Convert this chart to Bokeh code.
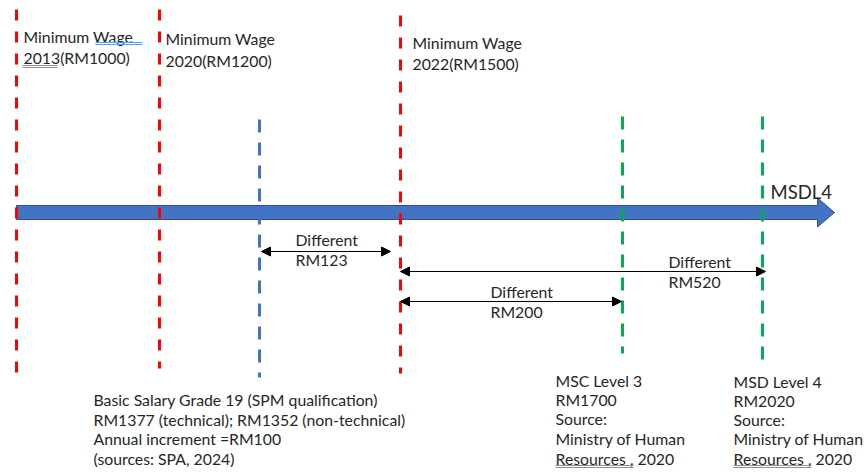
from bokeh.plotting import figure
from bokeh.models import Range1d, ColumnDataSource, Arrow, NormalHead
from bokeh.core.properties import value
from bokeh.embed import file_html
from bokeh.resources import INLINE

# ---------------- data ----------------
wage_years = ["2013", "2020", "2022"]
wage_amounts = [1000, 1200, 1500]
diff_amounts = [123, 520, 200]
timeline_label = "MSDL4"
grade_lines = ["Basic Salary Grade 19 (SPM qualification)",
               "RM1377 (technical); RM1352 (non-technical)",
               "Annual increment =RM100",
               "(sources: SPA, 2024)"]
msc_lines = ["MSC Level 3", "RM1700", "Source:", "Ministry of Human", "Resources , 2020"]
msd_lines = ["MSD Level 4", "RM2020", "Source:", "Ministry of Human", "Resources , 2020"]

# ---------------- layout (pixel positions of the diagram) ----------------
FONT = value("Lato")
FS = value("15.8px")
TXT = "#262626"
W, H = 864, 472
DY = -6  # baseline correction for text rendering

p = figure(width=W, height=H, x_range=Range1d(0, W), y_range=Range1d(H, 0),
           output_backend="svg", toolbar_location=None, min_border=0)
p.axis.visible = False
p.grid.visible = False
p.outline_line_color = None
p.background_fill_color = "white"


def txt(xs, ys, texts, size=FS):
    p.text(x=xs, y=[v + DY for v in ys], text=texts, text_font=FONT,
           text_font_size=size, text_color=TXT, text_baseline="alphabetic",
           text_align="left")


# timeline arrow
bar_x0, bar_x1, tip_x = 16, 817, 834
bar_yc, bar_half, head_half = 212, 7, 14.5
p.patch(x=[bar_x0, bar_x1, bar_x1, tip_x, bar_x1, bar_x1, bar_x0],
        y=[bar_yc - bar_half, bar_yc - bar_half, bar_yc - head_half, bar_yc,
           bar_yc + head_half, bar_yc + bar_half, bar_yc + bar_half],
        fill_color="#4472C4", line_color="#2F528F", line_width=1)
txt([770], [197], [timeline_label], size=value("18.5px"))

# dashed vertical markers
red = ColumnDataSource(dict(x=[16, 159, 400], y0=[9, 9, 15], y1=[382, 368, 373]))
p.segment(x0="x", y0="y0", x1="x", y1="y1", source=red, line_color="#FF0000",
          line_width=3, line_dash="11 11")
blue = ColumnDataSource(dict(x=[259], y0=[119], y1=[377]))
p.segment(x0="x", y0="y0", x1="x", y1="y1", source=blue, line_color="#4472C4",
          line_width=3, line_dash="13 10")
green = ColumnDataSource(dict(x=[622, 762], y0=[116, 116], y1=[353, 360]))
p.segment(x0="x", y0="y0", x1="x", y1="y1", source=green, line_color="#00B050",
          line_width=3, line_dash="13 10")

# minimum wage labels
wx = [23, 165, 412]
txt(wx, [42, 44, 48], ["Minimum Wage"] * 3)
txt(wx, [63, 66, 69], [f"{y}(RM{a})" for y, a in zip(wage_years, wage_amounts)])

# difference arrows
arr = ColumnDataSource(dict(x0=[261, 400, 400], x1=[390, 765, 621], y=[251, 271, 301]))
p.add_layout(Arrow(x_start="x0", y_start="y", x_end="x1", y_end="y", source=arr,
                   line_color="black", line_width=1.2,
                   start=NormalHead(size=9, fill_color="black", line_color="black"),
                   end=NormalHead(size=9, fill_color="black", line_color="black")))
dx = [295, 668, 490]
txt(dx, [245, 267, 297], ["Different"] * 3)
txt(dx, [265, 287, 317], [f"RM{v}" for v in diff_amounts])

# bottom text blocks
txt([93] * len(grade_lines), [405, 424.5, 444, 463.5], grade_lines)
txt([555] * len(msc_lines), [386, 405, 424, 444, 464], msc_lines)
txt([733] * len(msd_lines), [387, 406, 425, 444, 464], msd_lines)

# spell-check style double underlines
ul = ColumnDataSource(dict(
    x0=[95, 95, 22, 22, 555, 555, 733, 733],
    x1=[142, 142, 57, 57, 633, 633, 811, 811],
    y=[42, 44, 65, 67, 465, 467, 465, 467]))
p.segment(x0="x0", y0="y", x1="x1", y1="y", source=ul, line_color="#6A96DC",
          line_width=1)

open("out.html", "w").write(file_html(p, INLINE))
